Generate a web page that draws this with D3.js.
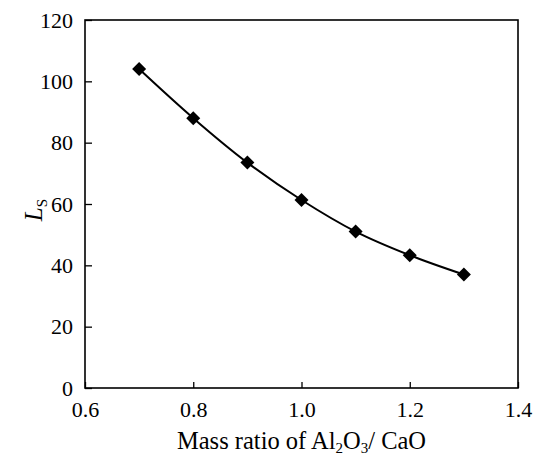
<!DOCTYPE html>
<html>
<head>
<meta charset="utf-8">
<script src="https://unpkg.com/d3@7/dist/d3.min.js"></script>
<style>
  body { margin: 0; background: #fff; }
  text { font-family: "Liberation Serif", "DejaVu Serif", serif; fill: #000; }
</style>
</head>
<body>
<div id="chart"></div>
<script>
// data
const ratios = [0.7, 0.8, 0.9, 1.0, 1.1, 1.2, 1.3];
const lsValues = [104, 88, 73.5, 61.3, 51, 43.3, 37];
const xTicks = [0.6, 0.8, 1.0, 1.2, 1.4];
const yTicks = [0, 20, 40, 60, 80, 100, 120];

const W = 538, H = 456;
const margin = { left: 85, right: 20, top: 20, bottom: 68 };
const w = W - margin.left - margin.right;
const h = H - margin.top - margin.bottom;

const svg = d3.select("#chart")
  .append("svg")
  .attr("width", W)
  .attr("height", H);

const g = svg.append("g")
  .attr("transform", `translate(${margin.left},${margin.top})`);

const x = d3.scaleLinear().domain([0.6, 1.4]).range([0, w]);
const y = d3.scaleLinear().domain([0, 120]).range([h, 0]);

// frame
g.append("rect")
  .attr("width", w)
  .attr("height", h)
  .attr("fill", "none")
  .attr("stroke", "#000")
  .attr("stroke-width", 1.6);

// x axis, ticks pointing inward
const xAxis = d3.axisBottom(x)
  .tickValues(xTicks)
  .tickFormat(d3.format(".1f"))
  .tickSizeInner(-6)
  .tickSizeOuter(0)
  .tickPadding(13);

g.append("g")
  .attr("transform", `translate(0,${h})`)
  .call(xAxis)
  .call(s => s.select(".domain").remove())
  .call(s => s.selectAll("line").attr("stroke-width", 1.3))
  .call(s => s.selectAll("text").attr("font-size", 22));

// y axis
const yAxis = d3.axisLeft(y)
  .tickValues(yTicks)
  .tickSizeInner(-7)
  .tickSizeOuter(0)
  .tickPadding(12);

g.append("g")
  .call(yAxis)
  .call(s => s.select(".domain").remove())
  .call(s => s.selectAll("line").attr("stroke-width", 1.3))
  .call(s => s.selectAll("text").attr("font-size", 22));

// axis labels
const xl = svg.append("text")
  .attr("x", margin.left + w / 2)
  .attr("y", 449)
  .attr("text-anchor", "middle")
  .attr("font-size", 24.5);
xl.append("tspan").text("Mass ratio of Al");
xl.append("tspan").attr("font-size", 15).attr("dy", 4).text("2");
xl.append("tspan").attr("dy", -4).text("O");
xl.append("tspan").attr("font-size", 15).attr("dy", 4).text("3");
xl.append("tspan").attr("dy", -4).text("/ CaO");

const yl = svg.append("text")
  .attr("transform", `translate(42,210) rotate(-90)`)
  .attr("text-anchor", "middle")
  .attr("font-size", 25);
yl.append("tspan").attr("font-style", "italic").text("L");
yl.append("tspan").attr("font-size", 15).attr("dy", 5).text("S");

// curve
const pts = ratios.map((r, i) => [r, lsValues[i]]);
const line = d3.line()
  .x(d => x(d[0]))
  .y(d => y(d[1]))
  .curve(d3.curveCatmullRom);

g.append("path")
  .datum(pts)
  .attr("d", line)
  .attr("fill", "none")
  .attr("stroke", "#000")
  .attr("stroke-width", 2);

// diamond markers
g.selectAll(".pt")
  .data(pts)
  .enter()
  .append("path")
  .attr("class", "pt")
  .attr("transform", d => `translate(${x(d[0])},${y(d[1])})`)
  .attr("d", d3.symbol().type(d3.symbolDiamond2).size(125))
  .attr("fill", "#000");
</script>
</body>
</html>
